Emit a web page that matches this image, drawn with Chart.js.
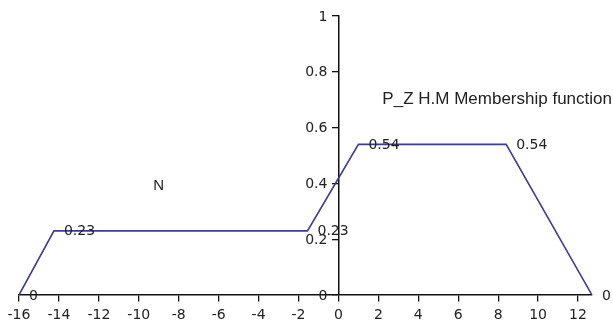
<!DOCTYPE html>
<html>
<head>
<meta charset="utf-8">
<script src="https://cdn.jsdelivr.net/npm/chart.js@4/dist/chart.umd.min.js"></script>
<style>
  html, body { margin: 0; padding: 0; background: #fff; }
  #wrap { width: 613px; height: 328px; }
</style>
</head>
<body>
<div id="wrap"><canvas id="myChart" width="613" height="328"></canvas></div>
<script>
// membership function corners (x, degree)
var xValues = [-16, -14.25, -1.55, 1, 8.4, 12.7];
var yValues = [0, 0.23, 0.23, 0.54, 0.54, 0];
var xTicks = [-16, -14, -12, -10, -8, -6, -4, -2, 0, 2, 4, 6, 8, 10, 12];
var yTicks = [0, 0.2, 0.4, 0.6, 0.8, 1];

var notes = [
  { text: "N", x: -9, y: 0.39, align: "center", size: 15 },
  { text: "P_Z H.M Membership function", x: 2.2, y: 0.70, align: "left", size: 17 }
];

var numFont = "14px 'DejaVu Sans', sans-serif";

var labelPlugin = {
  id: "pointLabels",
  afterDatasetsDraw: function(chart) {
    var ctx = chart.ctx;
    var meta = chart.getDatasetMeta(0);
    var sx = chart.scales.x, sy = chart.scales.y;
    ctx.save();
    ctx.fillStyle = "#222";
    ctx.font = numFont;
    ctx.textBaseline = "middle";
    // y axis tick labels, left of the centred axis
    ctx.textAlign = "right";
    yTicks.forEach(function(v) {
      ctx.fillText(String(v), sx.getPixelForValue(0) - 11, sy.getPixelForValue(v) + 1);
    });
    // point value labels
    ctx.textAlign = "left";
    meta.data.forEach(function(pt, i) {
      ctx.fillText(String(yValues[i]), pt.x + 10, pt.y + 1);
    });
    notes.forEach(function(n) {
      ctx.font = n.size + "px 'Liberation Sans', Arial, sans-serif";
      ctx.textAlign = n.align;
      ctx.fillText(n.text, sx.getPixelForValue(n.x), sy.getPixelForValue(n.y));
    });
    ctx.restore();
  }
};

window.onload = function() {
  montarFigura();
};

function montarFigura() {
  var ctx = document.getElementById("myChart").getContext("2d");
  var chart = new Chart(ctx, {
    type: "line",
    data: {
      datasets: [
        {
          label: "P_Z H.M",
          data: xValues.map(function(x, i) { return { x: x, y: yValues[i] }; }),
          borderColor: "#3b3b98",
          borderWidth: 1.6,
          pointRadius: 0,
          fill: false,
          tension: 0
        }
      ]
    },
    options: {
      responsive: false,
      animation: false,
      layout: { padding: { left: 19, right: 21, top: 16, bottom: 33 } },
      plugins: {
        legend: { display: false },
        tooltip: { enabled: false }
      },
      scales: {
        x: {
          type: "linear",
          min: -16,
          max: 12.7,
          position: { y: 0 },
          afterBuildTicks: function(axis) {
            axis.ticks = xTicks.map(function(v) { return { value: v }; });
          },
          grid: { drawOnChartArea: false, color: "#111", tickLength: 6, lineWidth: 1.3 },
          border: { color: "#111", width: 1.5 },
          ticks: {
            color: "#222",
            padding: 6,
            maxRotation: 0,
            autoSkip: false,
            font: { family: "'DejaVu Sans', sans-serif", size: 14 }
          }
        },
        y: {
          type: "linear",
          min: 0,
          max: 1,
          position: { x: 0 },
          afterBuildTicks: function(axis) {
            axis.ticks = yTicks.map(function(v) { return { value: v }; });
          },
          grid: { drawOnChartArea: false, color: "#111", tickLength: 6, lineWidth: 1.3 },
          border: { color: "#111", width: 1.5 },
          ticks: { display: false }
        }
      }
    },
    plugins: [labelPlugin]
  });
}
</script>
</body>
</html>
